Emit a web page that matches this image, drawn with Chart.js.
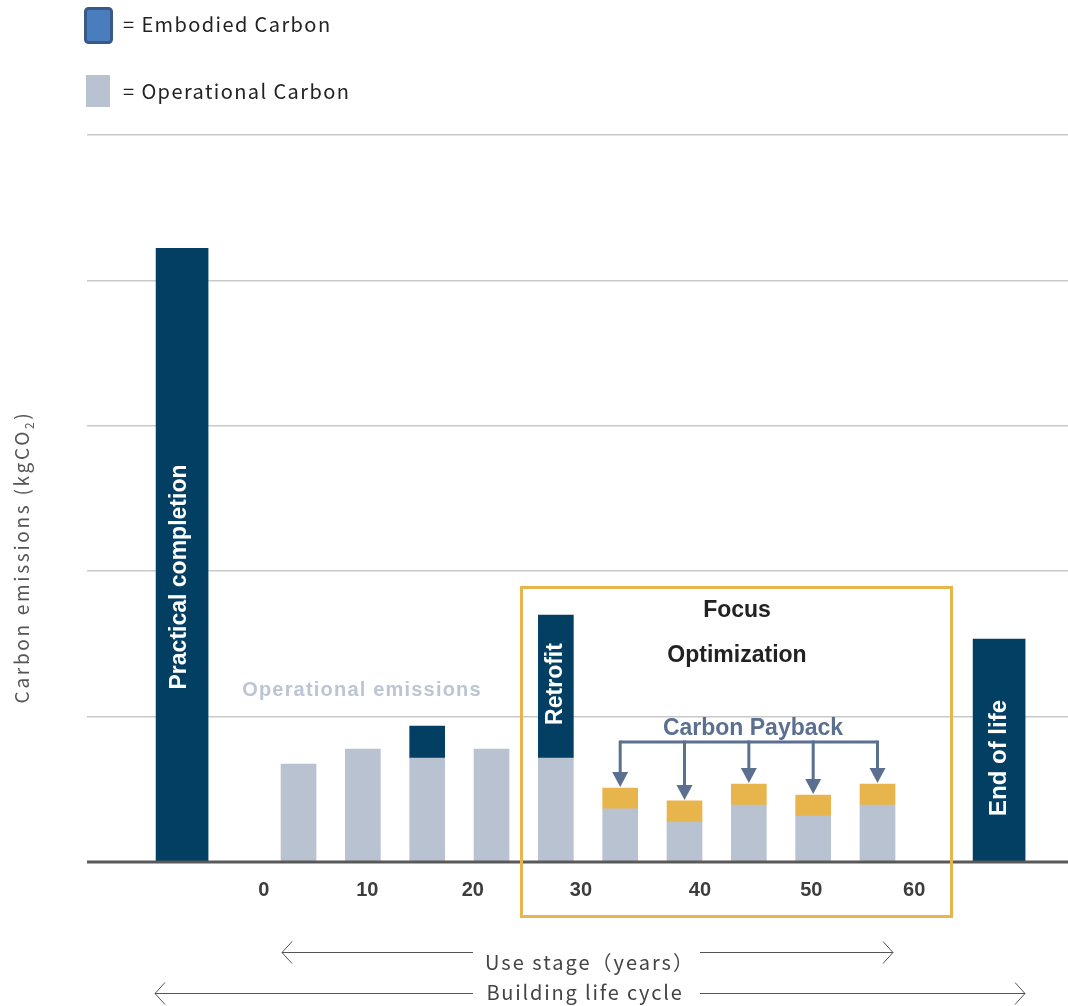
<!DOCTYPE html>
<html><head><meta charset="utf-8">
<script src="https://cdn.jsdelivr.net/npm/chart.js@4"></script>
<style>html,body{margin:0;padding:0;background:#fff}canvas{display:block}</style>
</head><body>
<canvas id="c" width="1068" height="1006"></canvas>
<script>
// ---- data ----
const stages = ['Practical completion','Use 1','Use 2','Use 3','Use 4','Retrofit','Opt 1','Opt 2','Opt 3','Opt 4','Opt 5','End of life'];
const stagePos = [-0.81, 1, 2, 3, 4, 5, 6, 7, 8, 9, 10, 11.89];
const operational = [null, 0.674, 0.777, 0.715, 0.777, 0.715, 0.365, 0.275, 0.392, 0.316, 0.392, null];
const embodied    = [4.22, null, null, 0.22, null, 0.984, null, null, null, null, null, 1.534];
const payback     = [null, null, null, null, null, null, 0.144, 0.145, 0.144, 0.145, 0.144, null];
const tickLabels = ['0','10','20','30','40','50','60'];
const tickPos    = [0.46, 2.07, 3.71, 5.39, 7.24, 8.97, 10.57];
const yMin = 0, yMax = 5, yStep = 1;
const wideStages = ['Practical completion','End of life'];

const NAVY = '#023f63', GRAY = '#b8c2d0', ORANGE = '#e8b44c', ARROW = '#5b6f91';

function pts(arr, keep) {
  const out = [];
  arr.forEach((v, i) => { if (v != null && keep(i)) out.push({x: stagePos[i], y: v}); });
  return out;
}
const isWide = i => wideStages.includes(stages[i]);

const annot = {
  id: 'annot',
  afterDatasetsDraw(chart) {
    const {ctx, chartArea: ca, scales: {x, y}} = chart;
    ctx.save();
    // baseline
    ctx.strokeStyle = '#595959'; ctx.lineWidth = 3;
    ctx.beginPath(); ctx.moveTo(ca.left, y.getPixelForValue(0)); ctx.lineTo(ca.right, y.getPixelForValue(0)); ctx.stroke();

    // tick labels
    ctx.fillStyle = '#3d3d3d'; ctx.font = 'bold 20px "Liberation Sans", Arial, sans-serif';
    ctx.textAlign = 'center'; ctx.textBaseline = 'middle';
    tickLabels.forEach((t, i) => ctx.fillText(t, x.getPixelForValue(tickPos[i]), 890));

    // rotated bar labels
    const rot = (txt, px, py) => { ctx.save(); ctx.translate(px, py); ctx.rotate(-Math.PI/2); ctx.fillText(txt, 0, 0); ctx.restore(); };
    ctx.fillStyle = '#ffffff'; ctx.font = 'bold 23px "Liberation Sans", Arial, sans-serif';
    rot('Practical completion', x.getPixelForValue(stagePos[0]) - 2, 577);
    rot('Retrofit', x.getPixelForValue(stagePos[5]), 684);
    ctx.font = 'bold 24px "Liberation Sans", Arial, sans-serif';
    rot('End of life', x.getPixelForValue(stagePos[11]), 758);

    // operational emissions
    ctx.fillStyle = '#bcc5d3'; ctx.font = 'bold 20px "Liberation Sans", Arial, sans-serif'; ctx.letterSpacing = '1.2px';
    ctx.fillText('Operational emissions', 362, 690);
    ctx.letterSpacing = '0px';

    // focus text
    ctx.fillStyle = '#222'; ctx.font = 'bold 23px "Liberation Sans", Arial, sans-serif';
    ctx.fillText('Focus', 737, 611);
    ctx.fillText('Optimization', 737, 656);
    ctx.fillStyle = ARROW;
    ctx.fillText('Carbon Payback', 753, 729);

    // payback arrows
    const hy = 742;
    const idx = [6,7,8,9,10];
    const xs = idx.map(i => x.getPixelForValue(stagePos[i]));
    ctx.strokeStyle = ARROW; ctx.fillStyle = ARROW; ctx.lineWidth = 3;
    ctx.beginPath(); ctx.moveTo(xs[0], hy); ctx.lineTo(xs[xs.length-1], hy); ctx.stroke();
    idx.forEach((i, k) => {
      const tip = y.getPixelForValue(operational[i] + payback[i]) - 1;
      ctx.beginPath(); ctx.moveTo(xs[k], hy - 1.5); ctx.lineTo(xs[k], tip - 12); ctx.stroke();
      ctx.beginPath(); ctx.moveTo(xs[k] - 8, tip - 15); ctx.lineTo(xs[k] + 8, tip - 15); ctx.lineTo(xs[k], tip); ctx.closePath(); ctx.fill();
    });

    // orange focus box
    ctx.strokeStyle = ORANGE; ctx.lineWidth = 3;
    ctx.strokeRect(521.5, 587.5, 430, 329);

    // legend
    ctx.fillStyle = '#4a7dbd'; ctx.strokeStyle = '#395a88'; ctx.lineWidth = 3;
    ctx.beginPath(); ctx.roundRect(85.5, 8.5, 26, 34, 3); ctx.fill(); ctx.stroke();
    ctx.fillStyle = GRAY; ctx.fillRect(86, 75, 24, 32);
    ctx.fillStyle = '#222'; ctx.font = '20px "Noto Sans CJK JP", "Noto Sans", sans-serif';
    ctx.textAlign = 'left'; ctx.letterSpacing = '1.4px';
    ctx.fillText('= Embodied Carbon', 123, 24);
    ctx.fillText('= Operational Carbon', 123, 91);
    ctx.letterSpacing = '0px';

    // y title
    ctx.save();
    ctx.translate(22, 557); ctx.rotate(-Math.PI/2);
    ctx.fillStyle = '#555';
    ctx.letterSpacing = '2.7px';
    const F1 = '19px "Noto Sans CJK JP", "Noto Sans", sans-serif', F2 = '12px "Noto Sans CJK JP", "Noto Sans", sans-serif';
    const a = 'Carbon emissions (kgCO', b = '2', c = ')';
    ctx.font = F1; const wa = ctx.measureText(a).width;
    ctx.font = F2; const wb = ctx.measureText(b).width;
    ctx.font = F1; const wc = ctx.measureText(c).width;
    let sx = -(wa + wb + wc) / 2;
    ctx.textAlign = 'left';
    ctx.fillText(a, sx, 0); sx += wa;
    ctx.font = F2; ctx.fillText(b, sx, 7); sx += wb;
    ctx.font = F1; ctx.fillText(c, sx, 0);
    ctx.restore();

    // bottom stage arrows
    ctx.strokeStyle = '#555'; ctx.lineWidth = 1; ctx.fillStyle = '#444';
    ctx.font = '20px "Noto Sans CJK JP", "Noto Sans", sans-serif'; ctx.textAlign = 'center';
    ctx.letterSpacing = '2px';
    ctx.fillText('Use stage（years）', 590, 962);
    ctx.letterSpacing = '1.8px';
    ctx.fillText('Building life cycle', 585, 992);
    ctx.letterSpacing = '0px';
    const hline = (x1, x2, yy) => { ctx.beginPath(); ctx.moveTo(x1, yy); ctx.lineTo(x2, yy); ctx.stroke(); };
    const head = (px, yy, dir) => {
      ctx.beginPath(); ctx.moveTo(px + dir * 10, yy - 11); ctx.lineTo(px, yy); ctx.lineTo(px + dir * 10, yy + 11); ctx.stroke();
    };
    hline(282, 473, 952.5); head(282, 952.5, 1);
    hline(700, 893, 952.5); head(893, 952.5, -1);
    hline(155, 473, 993.5); head(155, 993.5, 1);
    hline(700, 1025, 993.5); head(1025, 993.5, -1);
    ctx.restore();
  }
};

new Chart(document.getElementById('c'), {
  type: 'bar',
  data: {
    datasets: [
      { label: 'Operational Carbon', data: pts(operational, i => true), backgroundColor: GRAY, barThickness: 35, stack: 's' },
      { label: 'Embodied Carbon', data: pts(embodied, i => !isWide(i)), backgroundColor: NAVY, barThickness: 35, stack: 's' },
      { label: 'Embodied Carbon (stage)', data: pts(embodied, isWide), backgroundColor: NAVY, barThickness: 52, stack: 's' },
      { label: 'Carbon Payback', data: pts(payback, i => true), backgroundColor: ORANGE, barThickness: 35, stack: 's' }
    ]
  },
  options: {
    responsive: false, animation: false,
    layout: { padding: { left: 87, top: 135, right: 0, bottom: 144 } },
    plugins: { legend: { display: false }, tooltip: { enabled: false } },
    scales: {
      x: { type: 'linear', min: -2.288, max: 12.961, offset: false, display: false, stacked: true },
      y: { min: yMin, max: yMax, stacked: true,
           ticks: { display: false, stepSize: yStep },
           grid: { color: '#c9c9c9', lineWidth: 1.5, drawTicks: false },
           border: { display: false } }
    }
  },
  plugins: [annot]
});
</script>
</body></html>
